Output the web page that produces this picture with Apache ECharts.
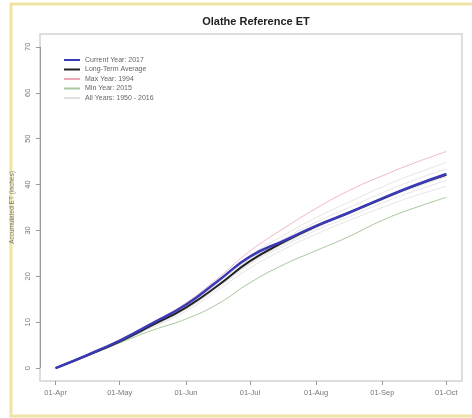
<!DOCTYPE html>
<html>
<head>
<meta charset="utf-8">
<script src="https://cdn.jsdelivr.net/npm/echarts@6/dist/echarts.min.js"></script>
<style>html,body{margin:0;padding:0;background:#fff}#c{width:472px;height:418px}</style>
</head>
<body>
<div id="c"></div>
<script>
// Days since 01-Apr
var days = [0, 15, 30, 45, 61, 76, 91, 107, 122, 137, 153, 168, 183];
var tickDays = [0, 30, 61, 91, 122, 153, 183];
var tickLabels = ['01-Apr', '01-May', '01-Jun', '01-Jul', '01-Aug', '01-Sep', '01-Oct'];
var yTicks = [0, 10, 20, 30, 40, 50, 60, 70];

var current2017 = [0, 2.9, 6.0, 9.7, 13.8, 19.0, 24.3, 27.8, 31.0, 33.8, 37.0, 39.8, 42.3];
var longTermAvg = [0, 2.8, 5.8, 9.3, 13.2, 18.0, 23.3, 27.5, 30.9, 33.8, 36.9, 39.7, 42.1];
var max1994 = [0, 2.9, 6.1, 9.8, 14.2, 19.6, 25.5, 30.5, 34.8, 38.6, 41.9, 44.7, 47.2];
var min2015 = [0, 2.7, 5.5, 8.2, 10.7, 14.0, 18.6, 22.6, 25.6, 28.6, 32.2, 34.9, 37.2];
var allYearsA = [0, 2.7, 5.6, 8.8, 12.4, 17.0, 21.8, 25.9, 29.2, 32.1, 35.0, 37.5, 39.6];
var allYearsB = [0, 2.8, 5.7, 9.0, 12.8, 17.5, 22.6, 26.6, 30.0, 32.9, 36.0, 38.6, 40.9];
var allYearsC = [0, 2.8, 5.9, 9.4, 13.5, 18.5, 23.8, 28.2, 31.8, 34.9, 38.2, 41.0, 43.4];
var allYearsD = [0, 2.9, 6.0, 9.6, 13.8, 19.0, 24.5, 29.0, 32.8, 36.1, 39.5, 42.3, 44.8];
var allYearsE = [0, 2.8, 5.8, 9.2, 13.0, 17.8, 22.9, 27.0, 30.5, 33.5, 36.6, 39.3, 41.7];

function pairs(v) { return days.map(function (d, i) { return [d, v[i]]; }); }

var ALL = 'All Years: 1950 - 2016';
function grayLine(v) {
  return { name: ALL, type: 'line', data: pairs(v), smooth: true, showSymbol: false,
    lineStyle: { color: '#e6e6e6', width: 1 }, itemStyle: { color: '#e6e6e6' }, z: 1 };
}

var chart = echarts.init(document.getElementById('c'), null, { renderer: 'canvas' });
chart.setOption({
  animation: false,
  backgroundColor: '#ffffff',
  title: { text: 'Olathe Reference ET', left: 251, textAlign: 'center', top: 11,
    textStyle: { fontSize: 11, fontWeight: 'bold', color: '#222', fontFamily: 'Liberation Sans, Arial' } },
  graphic: [{ type: 'rect', shape: { x: 11, y: 4, width: 470, height: 412 },
    style: { fill: 'none', stroke: '#efe3a6', lineWidth: 3 }, silent: true }],
  grid: { left: 40, right: 10, top: 34, bottom: 37, show: true, borderColor: '#d4d4d4', borderWidth: 1.5, backgroundColor: 'transparent' },
  legend: {
    orient: 'vertical', left: 59, top: 51, itemGap: 1.5, itemWidth: 16, itemHeight: 2, icon: 'rect',
    textStyle: { fontSize: 7, color: '#666', lineHeight: 8, fontFamily: 'Liberation Sans, Arial' },
    data: [
      { name: 'Current Year: 2017', itemStyle: { color: '#3a3ab8' } },
      { name: 'Long-Term Average', itemStyle: { color: '#222' } },
      { name: 'Max Year: 1994', itemStyle: { color: '#f0a8b8' } },
      { name: 'Min Year: 2015', itemStyle: { color: '#a8c8a0' } },
      { name: ALL, itemStyle: { color: '#e0e0e0' } }
    ]
  },
  xAxis: {
    type: 'value', min: -7.32, max: 190.32,
    axisLine: { show: false, onZero: false }, splitLine: { show: false },
    axisTick: { show: true, customValues: tickDays, length: 4, lineStyle: { color: '#999' } },
    axisLabel: { customValues: tickDays, fontSize: 7.5, color: '#777', margin: 8, fontFamily: 'Liberation Sans, Arial',
      formatter: function (v) { var i = tickDays.indexOf(v); return i >= 0 ? tickLabels[i] : ''; } }
  },
  yAxis: {
    type: 'value', min: -2.8, max: 72.8,
    name: 'Accumulated ET (inches)', nameLocation: 'middle', nameRotate: 90, nameGap: 23,
    nameTextStyle: { fontSize: 6.5, color: '#777', fontFamily: 'Liberation Sans, Arial' },
    axisLine: { show: false, onZero: false }, splitLine: { show: false },
    axisTick: { show: true, customValues: yTicks, length: 4, lineStyle: { color: '#999' } },
    axisLabel: { customValues: yTicks, rotate: 90, fontSize: 7.5, color: '#777', margin: 8, fontFamily: 'Liberation Sans, Arial' }
  },
  series: [
    grayLine(allYearsA), grayLine(allYearsB), grayLine(allYearsC), grayLine(allYearsD), grayLine(allYearsE),
    { name: 'Min Year: 2015', type: 'line', data: pairs(min2015), smooth: true, showSymbol: false,
      lineStyle: { color: '#a8c8a0', width: 1 }, z: 2,
      markLine: { silent: true, symbol: 'none', label: { show: false },
        lineStyle: { color: '#999', width: 1, type: 'solid' },
        data: [[{ coord: [-7.32, 0] }, { coord: [-7.32, 70] }]] } },
    { name: 'Max Year: 1994', type: 'line', data: pairs(max1994), smooth: true, showSymbol: false,
      lineStyle: { color: '#f0b8c4', width: 1 }, z: 2 },
    { name: 'Long-Term Average', type: 'line', data: pairs(longTermAvg), smooth: true, showSymbol: false,
      lineStyle: { color: '#222', width: 2 }, z: 3 },
    { name: 'Current Year: 2017', type: 'line', data: pairs(current2017), smooth: true, showSymbol: false,
      lineStyle: { color: '#3a3ab8', width: 2.5 }, z: 4 }
  ]
});
</script>
</body>
</html>
